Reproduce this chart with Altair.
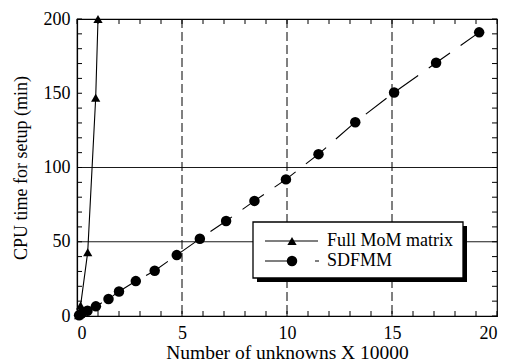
import altair as alt
import pandas as pd

# ---- data ----
mom_x = [0.08, 0.17, 0.51, 0.89, 1.0]
mom_y = [0.5, 7, 43, 147, 200]

sdf_x = [0.1, 0.2, 0.5, 0.9, 1.5, 2.0, 2.8, 3.7, 4.75, 5.85, 7.1, 8.45, 9.95,
         11.5, 13.25, 15.1, 17.1, 19.15]
sdf_y = [0.5, 1.5, 3.5, 6.5, 11.5, 16.5, 23.5, 30.5, 41, 52, 64, 77.5, 92,
         109, 130.5, 150.5, 170.5, 191]

x_labels = [0, 5, 10, 15, 20]
y_labels = [0, 50, 100, 150, 200]
x_minor = list(range(0, 21))
y_minor = list(range(0, 201, 10))
h_grid = [50, 100]
v_grid = [5, 10, 15]

legend_names = ["Full MoM matrix", "SDFMM"]

W, H = 420, 297
FONT = "Liberation Serif"

mom = pd.DataFrame({"x": mom_x, "y": mom_y})
sdf = pd.DataFrame({"x": sdf_x, "y": sdf_y})
one = pd.DataFrame({"k": [0]})

xs = alt.Scale(domain=[0, 20], nice=False)
ys = alt.Scale(domain=[0, 200], nice=False)

x_axis = alt.Axis(values=x_labels, title="Number of unknowns X 10000",
                  labelPadding=8, titlePadding=1, titleFontSize=19.5, format="d")
y_axis = alt.Axis(values=y_labels, title="CPU time for setup (min)",
                  labelPadding=7, titlePadding=13, format="d")

# series line carrying the axes (first layer)
mom_line = alt.Chart(mom).mark_line(color="black", strokeWidth=1.1).encode(
    x=alt.X("x:Q", scale=xs, axis=x_axis),
    y=alt.Y("y:Q", scale=ys, axis=y_axis))

# grid lines
hg = alt.Chart(pd.DataFrame({"y": h_grid})).mark_rule(
    color="black", strokeWidth=0.9).encode(
    y=alt.Y("y:Q", scale=ys))
vg = alt.Chart(pd.DataFrame({"x": v_grid})).mark_rule(
    color="black", strokeWidth=1, strokeDash=[9, 4]).encode(
    x=alt.X("x:Q", scale=xs))

# inside ticks
xt = pd.DataFrame({"x": x_minor})
yt = pd.DataFrame({"y": y_minor})
tick_b = alt.Chart(xt).mark_rule(color="black", strokeWidth=1).encode(
    x=alt.X("x:Q", scale=xs), y=alt.value(H), y2=alt.value(H - 5))
tick_t = alt.Chart(xt).mark_rule(color="black", strokeWidth=1).encode(
    x=alt.X("x:Q", scale=xs), y=alt.value(0), y2=alt.value(5))
tick_l = alt.Chart(yt).mark_rule(color="black", strokeWidth=1).encode(
    y=alt.Y("y:Q", scale=ys), x=alt.value(0), x2=alt.value(5))
tick_r = alt.Chart(yt).mark_rule(color="black", strokeWidth=1).encode(
    y=alt.Y("y:Q", scale=ys), x=alt.value(W), x2=alt.value(W - 5))

mom_pts = alt.Chart(mom).mark_point(shape="triangle-up", filled=True,
                                    color="black", size=85, opacity=1).encode(
    x=alt.X("x:Q", scale=xs), y=alt.Y("y:Q", scale=ys))
sdf_line = alt.Chart(sdf).mark_line(color="black", strokeWidth=1.1,
                                    strokeDash=[26, 13]).encode(
    x=alt.X("x:Q", scale=xs), y=alt.Y("y:Q", scale=ys))
sdf_pts = alt.Chart(sdf).mark_point(shape="circle", filled=True,
                                    color="black", size=110, opacity=1).encode(
    x=alt.X("x:Q", scale=xs), y=alt.Y("y:Q", scale=ys))

# legend (drawn box with shadow)
lx0, lx1, ly0, ly1 = 176, 386, 203, 259
shadow = alt.Chart(one).mark_rect(color="black").encode(
    x=alt.value(lx0 + 4), x2=alt.value(lx1 + 4),
    y=alt.value(ly0 + 4), y2=alt.value(ly1 + 4))
box = alt.Chart(one).mark_rect(fill="white", stroke="black", strokeWidth=1.3).encode(
    x=alt.value(lx0), x2=alt.value(lx1), y=alt.value(ly0), y2=alt.value(ly1))
r1 = 222
r2 = 242
leg_l1 = alt.Chart(one).mark_rule(color="black", strokeWidth=1.1).encode(
    x=alt.value(188), x2=alt.value(241), y=alt.value(r1))
leg_p1 = alt.Chart(one).mark_point(shape="triangle-up", filled=True,
                                   color="black", size=85, opacity=1).encode(
    x=alt.value(215), y=alt.value(r1))
leg_l2 = alt.Chart(one).mark_rule(color="black", strokeWidth=1.1,
                                  strokeDash=[30, 20]).encode(
    x=alt.value(188), x2=alt.value(242), y=alt.value(r2))
leg_p2 = alt.Chart(one).mark_point(shape="circle", filled=True,
                                   color="black", size=110, opacity=1).encode(
    x=alt.value(215), y=alt.value(r2))
leg_t1 = alt.Chart(one).mark_text(align="left", baseline="middle", font=FONT,
                                  fontSize=18, color="black").encode(
    x=alt.value(250), y=alt.value(r1), text=alt.value(legend_names[0]))
leg_t2 = alt.Chart(one).mark_text(align="left", baseline="middle", font=FONT,
                                  fontSize=18, color="black").encode(
    x=alt.value(250), y=alt.value(r2), text=alt.value(legend_names[1]))

chart = alt.layer(
    mom_line, hg, vg, tick_b, tick_t, tick_l, tick_r,
    sdf_line, sdf_pts, mom_pts,
    shadow, box, leg_l1, leg_p1, leg_l2, leg_p2, leg_t1, leg_t2
).properties(
    width=W, height=H,
    autosize=alt.AutoSizeParams(type="none"),
    padding={"left": 69, "top": 11, "right": 2, "bottom": 47},
    background="white"
).configure_view(
    stroke="black", strokeWidth=1.2
).configure_axis(
    domainColor="black", domainWidth=1.2, ticks=False, grid=False,
    labelFont=FONT, labelFontSize=18, labelColor="black",
    titleFont=FONT, titleFontSize=18, titleFontWeight="normal", titleColor="black"
)

chart.save("out.html", embed_options={"renderer": "svg", "actions": False})
